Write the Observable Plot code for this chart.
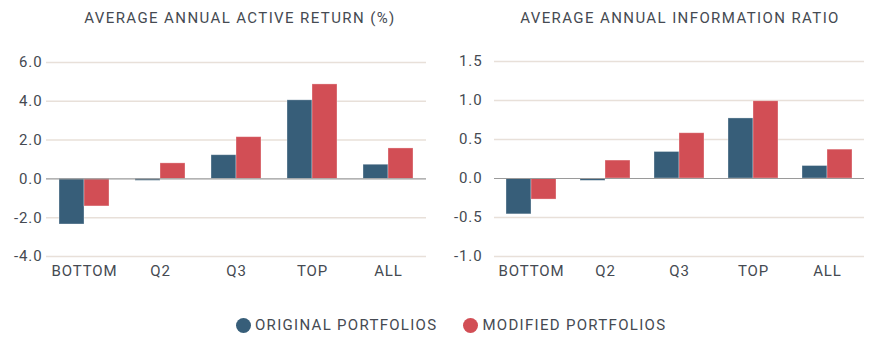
<!DOCTYPE html>
<html><head><meta charset="utf-8">
<script src="https://cdn.jsdelivr.net/npm/d3@7"></script>
<script src="https://cdn.jsdelivr.net/npm/@observablehq/plot@0.6"></script>
<style>
body{margin:0;background:#fff;font-family:Roboto,sans-serif;color:#454a52}
#wrap{position:relative;width:871px;height:351px;overflow:hidden}
.title{position:absolute;top:9px;font-size:15px;letter-spacing:1.4px;text-align:center;white-space:nowrap}
.chart{position:absolute;top:0}
.chart svg text{letter-spacing:0.9px}
#legend{position:absolute;top:316px;left:236px;display:flex;align-items:center;font-size:15px;letter-spacing:1.3px;white-space:nowrap}
.sw{width:15px;height:15px;border-radius:50%;display:inline-block;margin-right:4px}
.item{display:flex;align-items:center;margin-right:26px}
</style></head>
<body>
<div id="wrap">
  <div class="title" style="left:40px;width:400px">AVERAGE ANNUAL ACTIVE RETURN (%)</div>
  <div class="title" style="left:480px;width:400px">AVERAGE ANNUAL INFORMATION RATIO</div>
  <div class="chart" id="left" style="left:0"></div>
  <div class="chart" id="right" style="left:440px"></div>
  <div id="legend"></div>
</div>
<script>
const categories = ["BOTTOM", "Q2", "Q3", "TOP", "ALL"];
const series = ["ORIGINAL PORTFOLIOS", "MODIFIED PORTFOLIOS"];
const colors = ["#375e79", "#d24e55"];
const returnOriginal = [-2.35, -0.1, 1.22, 4.05, 0.73];
const returnModified = [-1.42, 0.8, 2.15, 4.87, 1.57];
const irOriginal = [-0.46, -0.03, 0.34, 0.77, 0.16];
const irModified = [-0.27, 0.23, 0.58, 0.99, 0.37];
const returnTicks = [-4, -2, 0, 2, 4, 6];
const irTicks = [-1, -0.5, 0, 0.5, 1, 1.5];

function chart({orig, mod, ticks, width, marginLeft, marginRight, marginTop, tickPadding}) {
  const data = categories.flatMap((c, i) => [
    {cat: c, s: series[0], v: orig[i]},
    {cat: c, s: series[1], v: mod[i]}
  ]);
  return Plot.plot({
    width, height: 290, marginTop, marginBottom: 34, marginLeft, marginRight,
    style: {fontFamily: "Roboto, sans-serif", fontSize: "15px", color: "#454a52", background: "transparent"},
    fx: {domain: categories, padding: 0, label: null, axis: "bottom", tickSize: 0, tickPadding: 9},
    x: {domain: series, axis: null, paddingInner: 0, paddingOuter: 0.47},
    y: {domain: [ticks[0], ticks[ticks.length - 1]], ticks, tickFormat: d => d.toFixed(1), tickSize: 0, tickPadding, label: null},
    color: {domain: series, range: colors},
    marks: [
      Plot.ruleY(ticks.filter(t => t !== 0), {stroke: "#e8e0d9", strokeWidth: 1.5}),
      Plot.barY(data, {fx: "cat", x: "s", y: "v", fill: "s", stroke: "white", strokeOpacity: 0.4, strokeWidth: 0.8}),
      Plot.ruleY([0], {stroke: "#9a9a9a", strokeWidth: 1.2})
    ]
  });
}

document.getElementById("left").append(chart({orig: returnOriginal, mod: returnModified, ticks: returnTicks, width: 440, marginLeft: 44, marginRight: 13, marginTop: 62, tickPadding: 4}));
document.getElementById("right").append(chart({orig: irOriginal, mod: irModified, ticks: irTicks, width: 431, marginLeft: 52, marginRight: 5, marginTop: 61, tickPadding: 12}));

const legend = document.getElementById("legend");
series.forEach((s, i) => {
  const it = document.createElement("div");
  it.className = "item";
  it.innerHTML = `<span class="sw" style="background:${colors[i]}"></span><span>${s}</span>`;
  legend.append(it);
});
</script>
</body></html>
